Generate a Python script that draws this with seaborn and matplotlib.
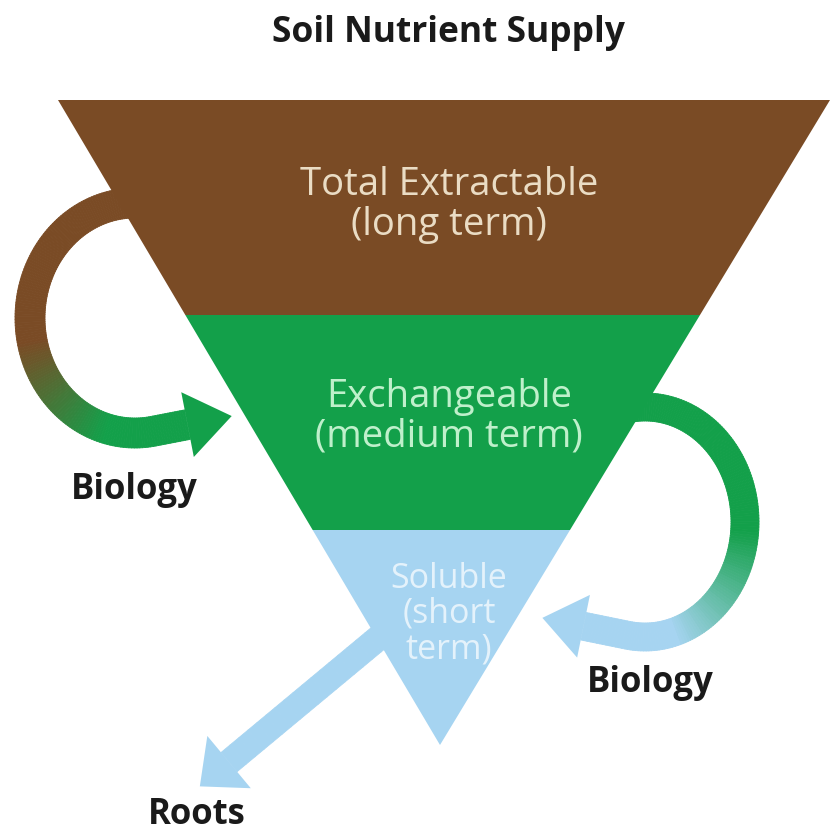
import numpy as np
import matplotlib.pyplot as plt
from matplotlib.collections import PolyCollection
import seaborn as sns

# layers of the inverted triangle, top to bottom
layer_names = ["Total Extractable", "Exchangeable", "Soluble"]
layer_terms = ["(long term)", "(medium term)", "(short\nterm)"]
layer_heights = [1, 1, 1]
flow_labels = ["Biology", "Biology", "Roots"]
title = "Soil Nutrient Supply"

brown = "#7a4b25"
green = "#13a04a"
sky = "#a6d4f1"
layer_colors = [brown, green, sky]
text_colors = ["#eadcc4", "#bff0cb", "#e4f2fb"]

sns.set_style("white")
plt.rcParams['font.family'] = ['Open Sans', 'DejaVu Sans']

fig = plt.figure(figsize=(8.33, 8.33), dpi=100)
ax = fig.add_axes([0, 0, 1, 1])
ax.set_xlim(0, 833)
ax.set_ylim(833, 0)
ax.axis('off')

# triangle geometry (pixel space, y down)
top_y, apex_y = 100, 745
left_x, right_x, apex_x = 58, 830, 440


def edges(y):
    f = (y - top_y) / (apex_y - top_y)
    return left_x + f * (apex_x - left_x), right_x + f * (apex_x - right_x)


bounds = top_y + np.concatenate([[0], np.cumsum(layer_heights)]) / sum(layer_heights) * (apex_y - top_y)
text_y = [205, 417, 614]
text_size = [27.5, 27.5, 24.5]
for i, name in enumerate(layer_names):
    y0, y1 = bounds[i], bounds[i + 1]
    a0, b0 = edges(y0)
    a1, b1 = edges(y1)
    ax.fill([a0, b0, b1, a1], [y0, y0, y1, y1], color=layer_colors[i], lw=0, zorder=3)
    ax.text(449, text_y[i], name + "\n" + layer_terms[i], ha='center', va='center',
            color=text_colors[i], fontsize=text_size[i], linespacing=1.05, zorder=5)


def ramp(c0, c1, n, start, stop):
    pal = sns.blend_palette([c0, c1], 64)
    s = np.clip((np.linspace(0, 1, n) - start) / (stop - start), 0, 1)
    return [pal[int(round(v * 63))] for v in s]


def band(pts, width, colors, head_len, head_w):
    t = np.gradient(pts, axis=0)
    t /= np.linalg.norm(t, axis=1)[:, None]
    nrm = np.column_stack([-t[:, 1], t[:, 0]])
    up = pts + nrm * width / 2
    dn = pts - nrm * width / 2
    quads = [[up[k], up[k + 1], dn[k + 1], dn[k]] for k in range(len(pts) - 1)]
    ax.add_collection(PolyCollection(quads, facecolors=colors[:-1], edgecolors=colors[:-1],
                                     linewidths=0.6, zorder=2))
    b, d, n = pts[-1], t[-1], nrm[-1]
    ax.fill(*np.array([b + n * head_w, b + d * head_len, b - n * head_w]).T,
            color=colors[-1], lw=0, zorder=2)


# left arrow: extractable -> exchangeable
th = np.radians(np.linspace(-75, -280, 160))
arc = np.column_stack([135 + 105 * np.cos(th), 318 + 115 * np.sin(th)])
tail = arc[-1] + np.outer(np.linspace(0, 35, 15)[1:], [0.98, -0.19])
pts = np.vstack([arc, tail])
band(pts, 30, ramp(brown, green, len(pts), 0.52, 0.8), 45, 33)

# right arrow: exchangeable -> soluble
th = np.radians(np.linspace(-110, 100, 160))
arc = np.column_stack([645 + 100 * np.cos(th), 522 + 115 * np.sin(th)])
tail = arc[-1] + np.outer(np.linspace(0, 45, 15)[1:], [-0.98, -0.2])
pts = np.vstack([arc, tail])
band(pts, 28, ramp(green, sky, len(pts), 0.5, 0.8), 42, 32)

# roots arrow
d = np.array([-0.77, 0.64])
pts = np.array([400, 620]) + np.outer(np.linspace(0, 222, 20), d)
band(pts, 25, [sky] * len(pts), 38, 34)

ink = '#1a1a1a'
ax.text(448, 33, title, ha='center', va='center', fontsize=25.5, fontweight='bold', color=ink)
ax.text(134, 490, flow_labels[0], ha='center', va='center', fontsize=25, fontweight='bold', color=ink)
ax.text(650, 683, flow_labels[1], ha='center', va='center', fontsize=25, fontweight='bold', color=ink)
ax.text(197, 815, flow_labels[2], ha='center', va='center', fontsize=25, fontweight='bold', color=ink)

fig.savefig("out.png", dpi=100, facecolor='white')
